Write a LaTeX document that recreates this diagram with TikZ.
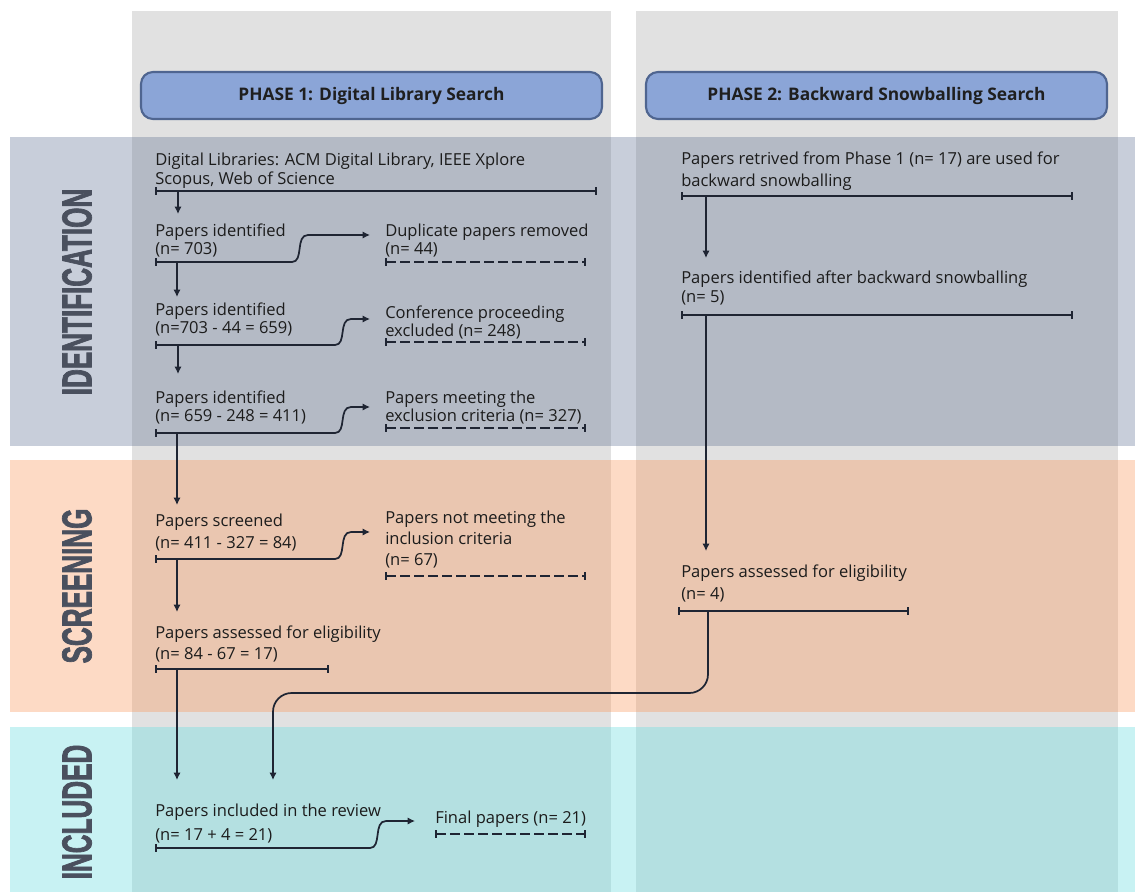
\documentclass[tikz,border=0pt]{standalone}
\usepackage{fontspec}
\setmainfont{Open Sans}
\newfontfamily\bandfont[FakeStretch=0.62,FakeBold=1.6]{Liberation Sans}
\usetikzlibrary{arrows.meta,calc}
\definecolor{colgray}{HTML}{E1E1E1}
\definecolor{idL}{HTML}{C8CEDA}
\definecolor{idD}{HTML}{B4BAC5}
\definecolor{scL}{HTML}{FDDAC5}
\definecolor{scD}{HTML}{EAC6B0}
\definecolor{inL}{HTML}{C8F2F3}
\definecolor{inD}{HTML}{B4E0E1}
\definecolor{phfill}{HTML}{8BA5D7}
\definecolor{phdraw}{HTML}{4F6590}
\definecolor{linec}{HTML}{1F2533}
\definecolor{textc}{HTML}{1C1C1C}
\definecolor{bandc}{HTML}{4A505E}
\begin{document}
\begin{tikzpicture}[x=0.75pt,y=-0.75pt,
  txt/.style={anchor=north west, inner sep=0pt, align=left, text=textc},
  sp18/.style={font=\fontsize{12.4}{13.5}\selectfont},
  sp19/.style={font=\fontsize{12.4}{14.25}\selectfont},
  sp21/.style={font=\fontsize{12.4}{15.75}\selectfont},
  sp22/.style={font=\fontsize{12.4}{16.5}\selectfont},
  sp24/.style={font=\fontsize{12.4}{18}\selectfont},
  bar/.style={draw=linec, line width=1.3pt, {Bar[width=5.5pt]}-{Bar[width=5.5pt]}},
  dbar/.style={bar, dash pattern=on 7.5pt off 3pt},
  flow/.style={draw=linec, line width=1.3pt, -{Latex[length=5.5pt,width=5.5pt]}},
  sflow/.style={draw=linec, line width=1.3pt, {Bar[width=5.5pt]}-{Latex[length=5.5pt,width=5.5pt]}},
  phase/.style={draw=phdraw, line width=1.6pt, fill=phfill, rounded corners=9pt, minimum width=345.75pt, minimum height=35.25pt, font=\fontsize{13}{14}\selectfont\bfseries, text=black!88},
  band/.style={rotate=90, inner sep=0pt, text=bandc, font=\fontsize{31.5}{32}\selectfont\bandfont\bfseries}
]
\useasboundingbox (0,0) rectangle (1135,892);
\fill[white] (0,0) rectangle (1135,892);
% columns
\fill[colgray] (132,11) rectangle (611,892);
\fill[colgray] (636,11) rectangle (1118,892);
% bands light
\fill[idL] (10,137) rectangle (1135,446);
\fill[scL] (10,460) rectangle (1135,712);
\fill[inL] (10,727) rectangle (1135,892);
% bands dark over columns
\fill[idD] (132,137) rectangle (611,446);
\fill[idD] (636,137) rectangle (1118,446);
\fill[scD] (132,460) rectangle (611,712);
\fill[scD] (636,460) rectangle (1118,712);
\fill[inD] (132,727) rectangle (611,892);
\fill[inD] (636,727) rectangle (1118,892);
% band labels
\node[band] (lid) at (77,292) {IDENTIFICATION};
\node[band] (lsc) at (77,586) {SCREENING};
\node[band] (lin) at (77,812) {INCLUDED};
% phase headers
\node[phase] (ph1) at (371.5,95.5) {PHASE 1: Digital Library Search};
\node[phase] (ph2) at (876.5,95.5) {PHASE 2: Backward Snowballing Search};
% phase 1 texts
\node[txt,sp19] (t1) at (155,153) {Digital Libraries: ACM Digital Library, IEEE Xplore\\Scopus, Web of Science};
\node[txt,sp18] (t2) at (155,224) {Papers identified\\(n= 703)};
\node[txt,sp18] (d1) at (385,224) {Duplicate papers removed\\(n= 44)};
\node[txt,sp18] (t3) at (155,303) {Papers identified\\(n=703 - 44 = 659)};
\node[txt,sp18] (d2) at (385,306) {Conference proceeding\\excluded (n= 248)};
\node[txt,sp18] (t4) at (155,391) {Papers identified\\(n= 659 - 248 = 411)};
\node[txt,sp18] (d3) at (385,391) {Papers meeting the\\exclusion criteria (n= 327)};
\node[txt,sp22] (t5) at (155,514) {Papers screened\\(n= 411 - 327 = 84)};
\node[txt,sp21] (d4) at (385,511) {Papers not meeting the\\inclusion criteria\\(n= 67)};
\node[txt,sp21] (t6) at (155,626) {Papers assessed for eligibility\\(n= 84 - 67 = 17)};
\node[txt,sp24] (t7) at (155,804) {Papers included in the review\\(n= 17 + 4 = 21)};
\node[txt,sp18] (d5) at (435,811) {Final papers (n= 21)};
% phase 2 texts
\node[txt,sp22] (p1) at (681,152) {Papers retrived from Phase 1 (n= 17) are used for\\backward snowballing};
\node[txt,sp19] (p2) at (681,271) {Papers identified after backward snowballing\\(n= 5)};
\node[txt,sp22] (p3) at (681,565) {Papers assessed for eligibility\\(n= 4)};
% bar coordinates
\coordinate (b1) at (155,191); \coordinate (b1r) at (597,191);
\coordinate (b2) at (155,262);
\coordinate (b3) at (155,345);
\coordinate (b4) at (155,433);
\coordinate (b5) at (155,559);
\coordinate (b6) at (155,669); \coordinate (b6r) at (329,669);
\coordinate (b7) at (155,848);
\coordinate (e1) at (385,262); \coordinate (e1r) at (586,262);
\coordinate (e2) at (385,342); \coordinate (e2r) at (586,342);
\coordinate (e3) at (385,428); \coordinate (e3r) at (586,428);
\coordinate (e4) at (385,576); \coordinate (e4r) at (586,576);
\coordinate (e5) at (435,834); \coordinate (e5r) at (586,834);
\coordinate (q1) at (681,196); \coordinate (q1r) at (1073,196);
\coordinate (q2) at (681,315); \coordinate (q2r) at (1073,315);
\coordinate (q3) at (678,611); \coordinate (q3r) at (909,611);
% solid bars
\draw[bar] (b1) -- (b1r);
\draw[bar] (b6) -- (b6r);
\draw[bar] (q1) -- (q1r);
\draw[bar] (q2) -- (q2r);
\draw[bar] (q3) -- (q3r);
% dashed bars
\draw[dbar] (e1) -- (e1r);
\draw[dbar] (e2) -- (e2r);
\draw[dbar] (e3) -- (e3r);
\draw[dbar] (e4) -- (e4r);
\draw[dbar] (e5) -- (e5r);
% S-curve exclusions
\draw[sflow] (b2) -- ($(b2)+(137,0)$) .. controls ($(b2)+(149,0)$) and ($(b2)+(140,-27)$) .. ($(b2)+(153,-27)$) -- ($(d1.north west)+(-15,11)$);
\draw[sflow] (b3) -- ($(b3)+(180,0)$) .. controls ($(b3)+(192,0)$) and ($(b3)+(183,-26)$) .. ($(b3)+(196,-26)$) -- ($(d2.north west)+(-15,13)$);
\draw[sflow] (b4) -- ($(b4)+(180,0)$) .. controls ($(b4)+(192,0)$) and ($(b4)+(183,-26)$) .. ($(b4)+(196,-26)$) -- ($(d3.north west)+(-15,16)$);
\draw[sflow] (b5) -- ($(b5)+(180,0)$) .. controls ($(b5)+(192,0)$) and ($(b5)+(183,-27)$) .. ($(b5)+(196,-27)$) -- ($(d4.north west)+(-15,21)$);
\draw[sflow] (b7) -- ($(b7)+(215,0)$) .. controls ($(b7)+(227,0)$) and ($(b7)+(218,-27)$) .. ($(b7)+(231,-27)$) -- ($(d5.north west)+(-20,10)$);
% vertical flow arrows phase 1
\draw[flow] ($(b1)+(23,0)$) -- ($(t2.north west)+(23,-10)$);
\draw[flow] ($(b2)+(22,0)$) -- ($(t3.north west)+(22,-6)$);
\draw[flow] ($(b3)+(23,0)$) -- ($(t4.north west)+(23,-17)$);
\draw[flow] ($(b4)+(22,0)$) -- ($(t5.north west)+(22,-9)$);
\draw[flow] ($(b5)+(22,0)$) -- ($(t6.north west)+(22,-14)$);
\draw[flow] ($(b6)+(22,0)$) -- ($(t7.north west)+(22,-24)$);
% phase 2 flow
\draw[flow] ($(q1)+(25,0)$) -- ($(p2.north west)+(25,-13)$);
\draw[flow] ($(q2)+(25,0)$) -- ($(p3.north west)+(25,-14)$);
\draw[flow, rounded corners=14pt] ($(q3)+(30,0)$) |- ($(t7.north west)+(118,-111)$) -- ($(t7.north west)+(118,-24)$);
\end{tikzpicture}
\end{document}
